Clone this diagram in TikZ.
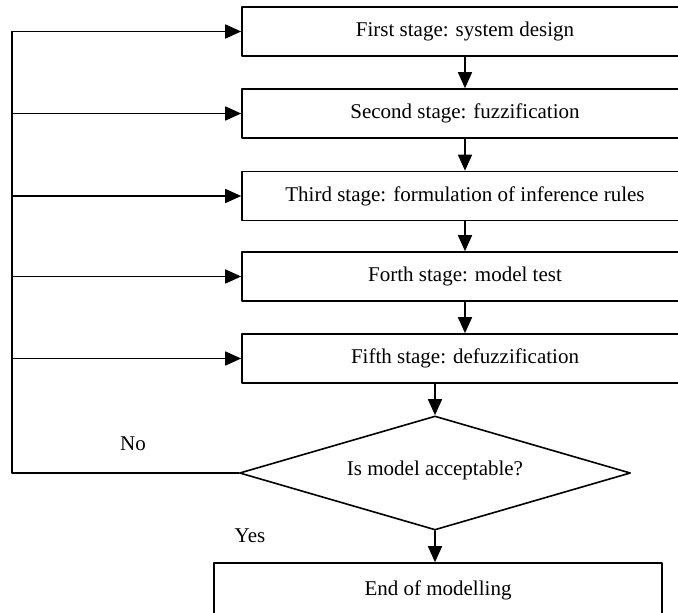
\documentclass[tikz,border=0pt]{standalone}
\usepackage{fontspec}
\setmainfont{Liberation Serif}
\usetikzlibrary{arrows.meta,calc,positioning,shapes.geometric}
\tikzset{
  stagebox/.style={rectangle, draw, line width=1.6pt, minimum width=446pt, minimum height=49pt, inner sep=0pt},
  decide/.style={diamond, draw, line width=1.6pt, aspect=3.43, minimum width=391pt, minimum height=114pt, inner sep=0pt},
  flow/.style={line width=1.6pt, -{Triangle[length=16pt,width=14pt]}},
  every picture/.style={line cap=round, line join=round}
}

\begin{document}
\begin{tikzpicture}[x=1pt, y=-1pt, font=\fontsize{21}{25}\selectfont]
  \useasboundingbox (0,0) rectangle (678,613);
  \clip (0,0) rectangle (678,613);

  % Stages
  \node[stagebox] (s1) at (465,31.5) {First stage: system design};
  \node[stagebox] (s2) at (465,113.5) {Second stage: fuzzification};
  \node[stagebox] (s3) at (465,196) {Third stage: formulation of inference rules};
  \node[stagebox] (s4) at (465,276.5) {Forth stage: model test};
  \node[stagebox] (s5) at (465,358.5) {Fifth stage: defuzzification};

  % Decision and end
  \node[decide] (q) at (435,473) {\raisebox{10pt}{Is model acceptable?}};
  \node[stagebox, minimum width=448pt, minimum height=54pt] (end) at (438,590) {End of modelling};

  \node (no) at (133,444) {No};
  \node (yes) at (250,536) {Yes};

  % Forward arrows
  \draw[flow] (s1) -- (s2);
  \draw[flow] (s2) -- (s3);
  \draw[flow] (s3) -- (s4);
  \draw[flow] (s4) -- (s5);
  \draw[flow] (s5.south -| q.north) -- (q.north);
  \draw[flow] (q.south) -- (end.north -| q.south);

  % Feedback loop
  \coordinate (back) at (12,473);
  \draw[flow] (q.west) -- (back) |- (s1.west);
  \foreach \s in {s2,s3,s4,s5}
    \draw[flow] (back |- \s.west) -- (\s.west);
\end{tikzpicture}
\end{document}
